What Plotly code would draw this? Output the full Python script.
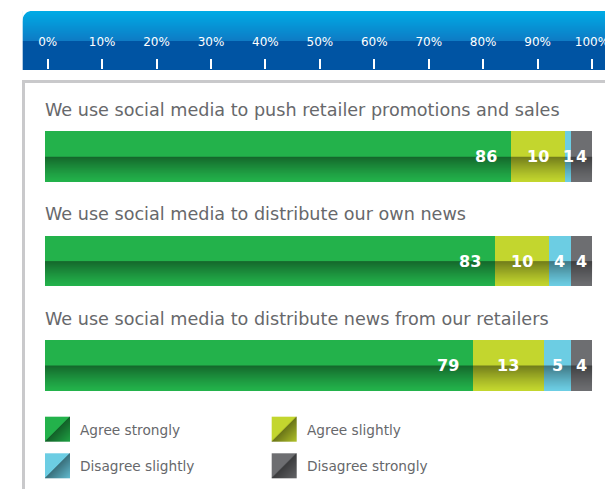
import base64
import struct
import zlib

import plotly.graph_objects as go

W, H = 605, 489

# ---- data -------------------------------------------------------------
statements = [
    "We use social media to push retailer promotions and sales",
    "We use social media to distribute our own news",
    "We use social media to distribute news from our retailers",
]
series_names = ["Agree strongly", "Agree slightly", "Disagree slightly", "Disagree strongly"]
agree_strongly = [86, 83, 79]
agree_slightly = [10, 10, 13]
disagree_slightly = [1, 4, 5]
disagree_strongly = [4, 4, 4]
tick_values = [0, 10, 20, 30, 40, 50, 60, 70, 80, 90, 100]
tick_labels = ["0%", "10%", "20%", "30%", "40%", "50%", "60%", "70%", "80%", "90%", "100%"]

# ---- styling ----------------------------------------------------------
series_rgb = [(35, 178, 75), (195, 214, 46), (108, 205, 227), (109, 110, 113)]
TEXT_GREY = "#67686b"
FONT = "DejaVu Sans"
BAR_WIDTH = 0.485


def hex_rgb(c):
    return "#%02x%02x%02x" % c


def px(x):
    return x / W


def py(y):
    return 1 - y / H


def png_uri(pixels):
    """Encode a list of RGBA rows as a PNG data URI."""
    h, w = len(pixels), len(pixels[0])
    raw = b"".join(b"\x00" + bytes(v for p in row for v in p) for row in pixels)

    def chunk(tag, data):
        return (struct.pack(">I", len(data)) + tag + data
                + struct.pack(">I", zlib.crc32(tag + data) & 0xFFFFFFFF))

    png = (b"\x89PNG\r\n\x1a\n"
           + chunk(b"IHDR", struct.pack(">IIBBBBB", w, h, 8, 6, 0, 0, 0))
           + chunk(b"IDAT", zlib.compress(raw))
           + chunk(b"IEND", b""))
    return "data:image/png;base64," + base64.b64encode(png).decode()


def lerp(a, b, t):
    return tuple(int(round(a[k] + (b[k] - a[k]) * t)) for k in range(len(a)))


# glossy shade for the lower half of every bar
shade_rows = []
N = 50
for r in range(N):
    if r < N // 2:
        a = 0
    else:
        t = (r - N // 2) / (N - N // 2 - 1)
        a = int(255 * 0.42 * (1 - t) ** 1.2)
    shade_rows.append([(0, 0, 0, a)] * 2)
SHADE = png_uri(shade_rows)

# header band gradient (light top half, deep blue lower half)
header_rows = []
for y in range(11, 70):
    if y < 41:
        c = lerp((0, 171, 229), (14, 122, 196), (y - 11) / 30)
    else:
        c = (0, 84, 163)
    header_rows.append([c + (255,)] * 2)
HEADER = png_uri(header_rows)


def swatch(rgb):
    """Square legend key split along the diagonal, darker lower-right half."""
    n = 25
    rows = []
    for j in range(n):
        row = []
        for i in range(n):
            s = i + j - (n - 1)
            if s < 0:
                row.append(rgb + (255,))
            else:
                f = 0.55 + 0.35 * s / (n - 1)
                row.append(tuple(int(v * f) for v in rgb) + (255,))
        rows.append(row)
    return png_uri(rows)


# ---- figure -----------------------------------------------------------
series = [agree_strongly, agree_slightly, disagree_slightly, disagree_strongly]
rows = list(range(len(statements)))

fig = go.Figure()
for name, vals, rgb in zip(series_names, series, series_rgb):
    fig.add_trace(go.Bar(
        y=rows, x=vals, orientation="h", name=name, width=BAR_WIDTH,
        marker=dict(color=hex_rgb(rgb), line=dict(width=0)),
        showlegend=False, hoverinfo="x+name",
    ))

# invisible carrier so the header scale gets its own subplot
fig.add_trace(go.Scatter(
    x=tick_values, y=[0.5] * len(tick_values), xaxis="x2", yaxis="y2",
    mode="markers", marker=dict(opacity=0), showlegend=False, hoverinfo="skip",
))

annotations = []
images = []
shapes = []

# statement titles and value labels
for i, text in enumerate(statements):
    annotations.append(dict(
        x=0, y=i, xref="x", yref="y", text=text, showarrow=False,
        xanchor="left", yanchor="middle", yshift=47, xshift=-2,
        font=dict(family=FONT, size=17.6, color=TEXT_GREY),
    ))
    base = 0
    for k, vals in enumerate(series):
        v = vals[i]
        if k == 0:
            ann = dict(x=base + v, xanchor="right", xshift=-12)
        else:
            ann = dict(x=base + v / 2, xanchor="center")
        ann.update(y=i, xref="x", yref="y", text=str(v), showarrow=False,
                   yanchor="middle",
                   font=dict(family=FONT, size=16, color="white", weight="bold"))
        annotations.append(ann)
        base += v
    images.append(dict(
        source=SHADE, xref="x", yref="y", x=0, y=i, sizex=base, sizey=BAR_WIDTH,
        xanchor="left", yanchor="middle", sizing="stretch", layer="above",
    ))

# header band
images.append(dict(
    source=HEADER, xref="paper", yref="paper", x=px(22.7), y=py(11),
    sizex=px(W + 2) - px(22.7), sizey=59 / H, xanchor="left", yanchor="top",
    sizing="stretch", layer="below",
))
r = 11
shapes.append(dict(
    type="path", xref="paper", yref="paper", layer="below",
    path=(f"M{px(22.2)},{py(10.5)} L{px(22.7 + r)},{py(10.5)} "
          f"Q{px(22.7)},{py(11)} {px(22.2)},{py(11 + r)} Z"),
    fillcolor="white", line=dict(width=0),
))
# frame around the chart body
shapes.append(dict(
    type="path", xref="paper", yref="paper", layer="below",
    path=f"M{px(23.5)},{py(H + 2)} L{px(23.5)},{py(81.5)} L{px(W + 2)},{py(81.5)}",
    line=dict(color="#c9c9cb", width=3),
))

# legend (2 x 2 grid)
legend_cols = [45, 271.7]
legend_rows = [416.7, 453.3]
for k, (name, rgb) in enumerate(zip(series_names, series_rgb)):
    cx = legend_cols[k % 2]
    cy = legend_rows[k // 2]
    images.append(dict(
        source=swatch(rgb), xref="paper", yref="paper", x=px(cx), y=py(cy),
        sizex=25 / W, sizey=25 / H, xanchor="left", yanchor="top",
        sizing="stretch", layer="above",
    ))
    annotations.append(dict(
        x=px(cx + 33), y=py(cy + 13), xref="paper", yref="paper", text=name,
        showarrow=False, xanchor="left", yanchor="middle",
        font=dict(family=FONT, size=13.7, color=TEXT_GREY),
    ))

fig.update_layout(
    width=W, height=H, margin=dict(l=0, r=0, t=0, b=0, pad=0, autoexpand=False),
    paper_bgcolor="white", plot_bgcolor="rgba(0,0,0,0)",
    barmode="stack", showlegend=False,
    xaxis=dict(domain=[px(45), px(592.4)], range=[0, 101], visible=False,
               fixedrange=True, automargin=False),
    yaxis=dict(domain=[1 - 417.7 / H, 1 - 104.5 / H], range=[2.5, -0.5],
               visible=False, fixedrange=True, automargin=False),
    # percentage scale printed in the header band
    xaxis2=dict(
        domain=[px(47.7), px(592)], range=[0, 100], anchor="y2",
        side="top", tickmode="array", tickvals=tick_values, ticktext=tick_labels,
        ticks="outside", ticklen=10, tickwidth=2, tickcolor="white",
        showgrid=False, zeroline=False, showline=False, ticklabelstandoff=8,
        ticklabeloverflow="allow", automargin=False,
        tickfont=dict(family=FONT, size=12, color="white"), fixedrange=True,
    ),
    yaxis2=dict(domain=[py(80), py(70)], range=[0, 1], anchor="x2",
                visible=False, fixedrange=True, automargin=False),
    annotations=annotations, images=images, shapes=shapes,
)

fig.write_html("out.html")
